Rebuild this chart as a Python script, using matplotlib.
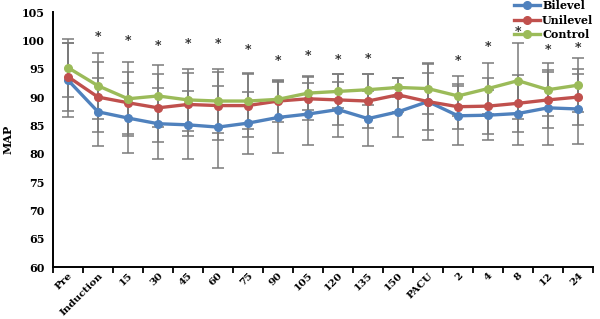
import numpy as np
import matplotlib
matplotlib.use('Agg')
import matplotlib.pyplot as plt

categories = ['Pre', 'Induction', '15', '30', '45', '60', '75', '90', '105', '120',
              '135', '150', 'PACU', '2', '4', '8', '12', '24']

bilevel = [93.0, 87.4, 86.3, 85.3, 85.1, 84.7, 85.4, 86.4, 87.0, 87.8, 86.2, 87.4,
           89.2, 86.7, 86.8, 87.1, 88.1, 87.9]
unilevel = [93.6, 90.0, 89.0, 88.1, 88.7, 88.5, 88.5, 89.3, 89.7, 89.5, 89.3, 90.4,
            89.2, 88.3, 88.4, 88.9, 89.5, 90.0]
control = [95.2, 92.0, 89.7, 90.2, 89.5, 89.3, 89.3, 89.6, 90.7, 91.0, 91.3, 91.7,
           91.5, 90.2, 91.5, 92.9, 91.3, 92.1]

bilevel_sd = [6.5, 6.0, 6.1, 6.3, 6.0, 7.2, 5.5, 6.2, 5.5, 4.8, 4.9, 4.4, 6.8, 5.2,
              4.4, 5.6, 6.6, 6.1]
unilevel_sd = [6.0, 6.2, 5.5, 6.0, 5.5, 6.0, 5.5, 3.7, 3.8, 4.5, 4.7, 3.0, 5.0, 4.0,
               5.0, 5.0, 5.0, 5.0]
control_sd = [5.1, 5.8, 6.5, 5.5, 5.5, 5.6, 5.0, 3.3, 3.0, 3.0, 2.7, 1.7, 4.4, 3.5,
              4.5, 6.7, 4.7, 4.8]

# significance markers (y position of the asterisk, None = no star)
stars = [None, 100.5, 99.9, 99.0, 99.2, 99.3, 98.3, 96.2, 97.1, 96.4, 96.7, None,
         None, 96.3, 98.7, 101.4, 98.3, 98.6]

plt.rcParams['font.family'] = 'DejaVu Serif'
plt.rcParams['font.weight'] = 'bold'

fig = plt.figure(figsize=(6.0, 3.19), dpi=100)
ax = fig.add_axes([0.0883, 0.163, 0.9, 0.799])

x = np.arange(len(categories))
series = [('Bilevel', bilevel, bilevel_sd, '#4F81BD'),
          ('Unilevel', unilevel, unilevel_sd, '#C0504D'),
          ('Control', control, control_sd, '#9BBB59')]

for name, vals, sd, col in series:
    ax.errorbar(x, vals, yerr=sd, fmt='none', ecolor='#7a7a7a', elinewidth=1.1,
                capsize=4, capthick=1.1, zorder=2)
for name, vals, sd, col in series:
    ax.plot(x, vals, color=col, lw=2.4, marker='o', ms=5.5, label=name, zorder=3)

for xi, s in zip(x, stars):
    if s is not None:
        ax.text(xi, s, '*', ha='center', va='center', fontsize=9, fontweight='bold',
                color='#222222')

ax.set_xlim(-0.5, len(categories) - 0.5)
ax.set_ylim(60, 105)
ax.set_yticks(np.arange(60, 106, 5))
ax.tick_params(axis='y', length=0, labelsize=8, pad=6)
ax.set_xticks(x)
ax.set_xticklabels(categories, rotation=45, ha='right', va='top',
                   rotation_mode='anchor', fontsize=7.5)
ax.tick_params(axis='x', which='major', length=0, pad=3)
ax.set_xticks(np.arange(-0.5, len(categories)), minor=True)
ax.tick_params(axis='x', which='minor', length=4, width=1.3, direction='out')
ax.set_ylabel('MAP', fontsize=8, fontweight='bold', labelpad=6)

for sp in ['top', 'right']:
    ax.spines[sp].set_visible(False)
for sp in ['left', 'bottom']:
    ax.spines[sp].set_linewidth(1.4)

leg = fig.legend(loc='upper right', bbox_to_anchor=(1.0, 1.02), frameon=False,
                 fontsize=8, handlelength=2.3, handletextpad=0.2, labelspacing=0.3,
                 borderaxespad=0.2)

fig.savefig('out.png', dpi=100)
